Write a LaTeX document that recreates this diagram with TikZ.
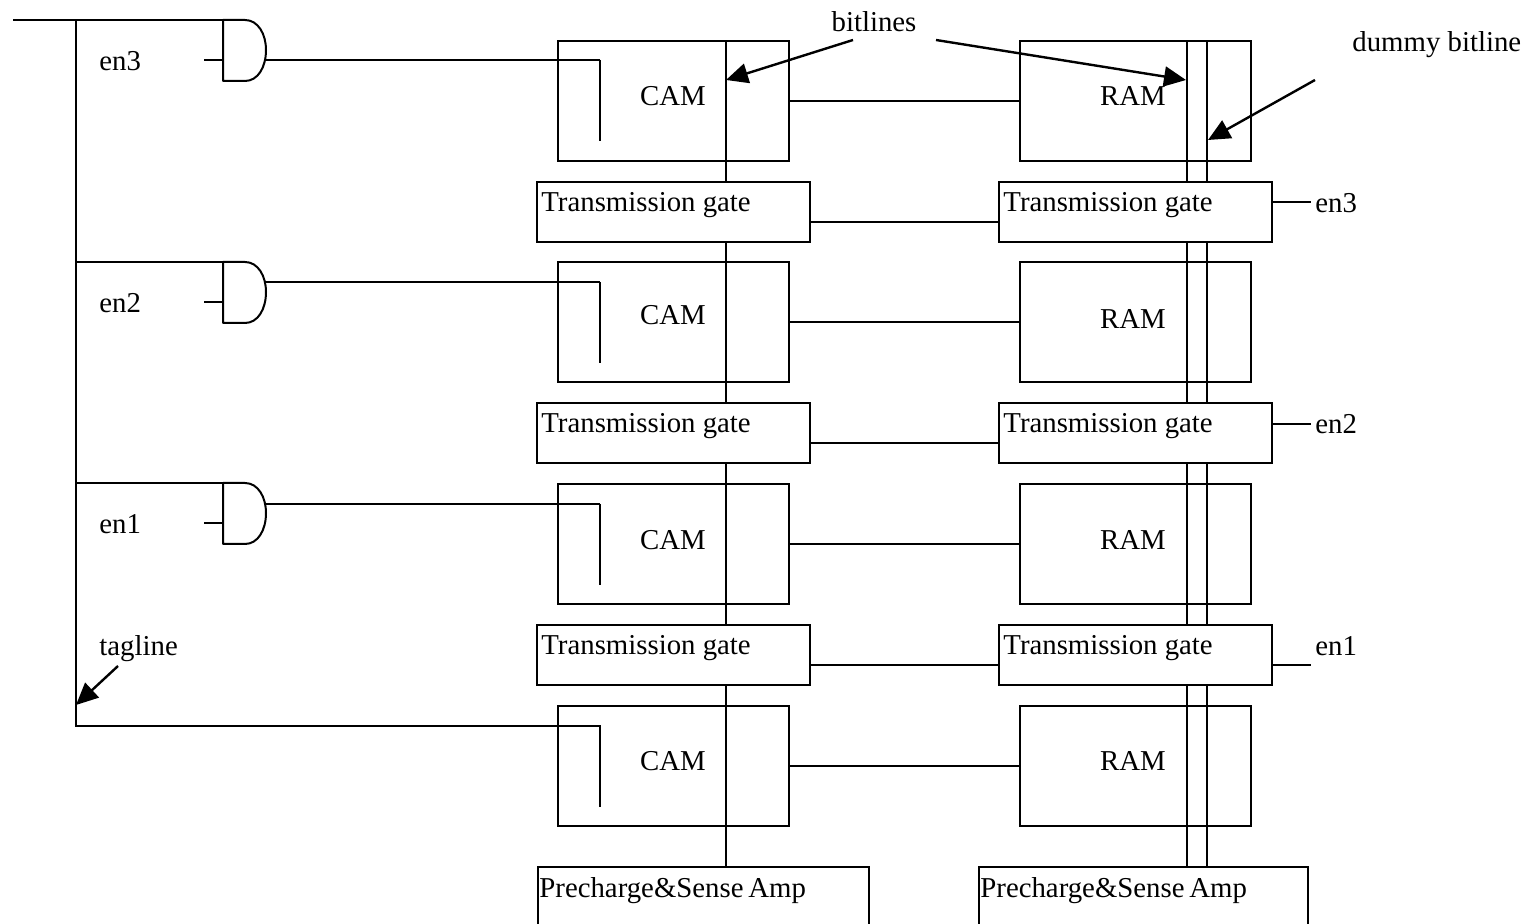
\documentclass[tikz,border=0pt]{standalone}
\usepackage{fontspec}
\setmainfont{Liberation Serif}
\usetikzlibrary{arrows.meta}

\tikzset{
    txt/.style={inner sep=0pt, font=\fontsize{14.4}{17}\selectfont},
    cambox/.style={draw, line width=1pt, inner sep=0pt, minimum width=115.5pt, minimum height=60pt},
    gatebox/.style={draw, fill=white, line width=1pt, inner sep=0pt, minimum width=136.5pt, minimum height=30pt},
    prebox/.style={draw, line width=1pt, inner sep=0pt, minimum width=165.5pt, minimum height=40pt},
    wire/.style={line width=1pt},
    pointer/.style={->, >={Triangle[length=11pt,width=10pt]}, line width=1.2pt}
}

\begin{document}
\begin{tikzpicture}[x=0.5pt, y=-0.5pt]
            \useasboundingbox (0,0) rectangle (1526,924);

            \node[prebox] (PL) at (703,907) {};
            \node[prebox, minimum width=164.5pt] (PR) at (1143,907) {};
            \node[txt, anchor=west] (PLt) at (539,891) {Precharge\&Sense\,Amp};
            \node[txt, anchor=west] (PRt) at (980,891) {Precharge\&Sense\,Amp};

            % cam and ram rows
            \foreach \k/\Y/\yc/\yr/\ys in {0/101/96/96/60, 1/322.5/315/319/282, 2/544/540/540/504, 3/765.5/761/761/726} {
                \node[cambox] (C\k) at (673.5,\Y) {};
                \node[cambox] (R\k) at (1135,\Y) {};
                \node[txt] (Ct\k) at (673,\yc) {CAM};
                \node[txt] (Rt\k) at (1133,\yr) {RAM};
                \draw[wire] (C\k.east) -- (R\k.west);
                \coordinate (S\k) at (600,\ys);
                \coordinate (E\k) at (600,\ys+81);
                \draw[wire] (S\k) -- (E\k);
            }

            % bitlines
            \coordinate (BC) at (726,41);
            \coordinate (BR) at (1187,41);
            \coordinate (BD) at (1207,41);
            \draw[wire] (BC) -- (BC |- PL.north);
            \draw[wire] (BR) -- (BR |- PR.north);
            \draw[wire] (BD) -- (BD |- PR.north);

            % transmission gates
            \foreach \k/\Y/\n/\ys in {0/212/3/202, 1/433.5/2/424, 2/655/1/665} {
                \node[gatebox] (TL\k) at (673.5,\Y) {};
                \node[gatebox] (TR\k) at (1135,\Y) {};
                \node[txt, anchor=west] (TLt\k) at (541,\Y-7) {Transmission gate};
                \node[txt, anchor=west] (TRt\k) at (1003,\Y-7) {Transmission gate};
                \draw[wire] ([yshift=-5pt]TL\k.east) -- ([yshift=-5pt]TR\k.west);
                \coordinate (N\k) at (1311,\ys);
                \draw[wire] (TR\k.east |- N\k) -- (N\k);
                \node[txt, anchor=west] (En\k) at (1315,\Y-9) {en\n};
            }

            % tagline and and-gates
            \coordinate (T0) at (13,20);
            \coordinate (T1) at (76,20);
            \coordinate (T2) at (76,726);
            \draw[wire] (T0) -- (T1) -- (T2) -- (S3) -- (E3);
            \foreach \k/\Y/\yo/\n in {0/20/60/3, 1/262/282/2, 2/483/504/1} {
                \coordinate (A\k) at (223,\Y);
                \coordinate (B\k) at (223,\Y+61);
                \coordinate (M\k) at (266,\Y+30);
                \coordinate (O\k) at (265,\yo);
                \coordinate (I\k) at (204,\Y+40);
                \draw[wire] (T1 |- A\k) -- (A\k);
                \draw[wire, line join=round] (A\k) -- (245,\Y) .. controls (258,\Y) and (266,\Y+14) .. (M\k)
                    .. controls (266,\Y+47) and (258,\Y+61) .. (245,\Y+61) -- (B\k) -- cycle;
                \draw[wire] (I\k) -- (I\k -| A\k);
                \draw[wire] (O\k) -- (S\k);
                \node[txt, anchor=west] (Le\k) at (99,\Y+41) {en\n};
            }

            \node[txt] (LB) at (874,22) {bitlines};
            \node[txt, anchor=west] (LD) at (1352,45) {dummy bitline};
            \node[txt, anchor=west] (LT) at (99,649) {tagline};

            \coordinate (P0) at (853,40);
            \coordinate (P1) at (936,40);
            \coordinate (P2) at (1315,80);
            \coordinate (P3) at (118,666);
            \draw[pointer] (P0) -- (726,80);
            \draw[pointer] (P1) -- (1186,80);
            \draw[pointer] (P2) -- (1208,140);
            \draw[pointer] (P3) -- (76,705);
        \end{tikzpicture}
\end{document}
